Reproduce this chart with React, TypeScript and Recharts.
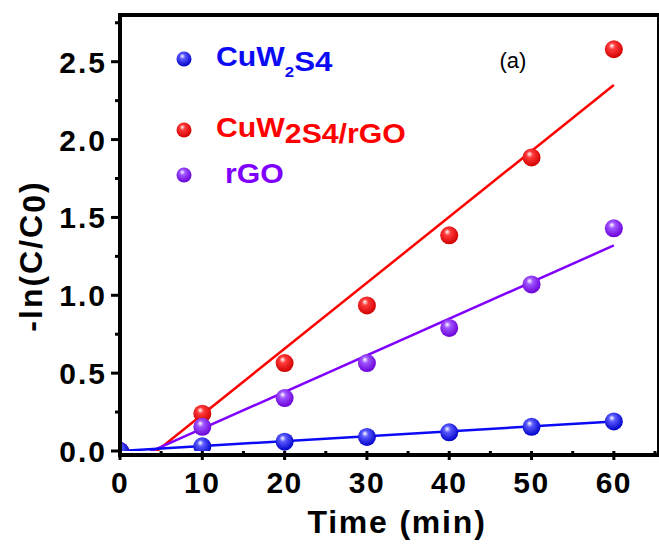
import { ComposedChart, Line, Scatter, XAxis, YAxis } from 'recharts'

// Pseudo-first-order kinetics, -ln(C/C0) against irradiation time
const times = [0, 10, 20, 30, 40, 50, 60]
const cuw2s4 = [0.0, 0.03, 0.06, 0.09, 0.12, 0.155, 0.19]
const composite = [0.0, 0.24, 0.565, 0.935, 1.385, 1.885, 2.58]
const rgo = [0.0, 0.155, 0.34, 0.565, 0.79, 1.07, 1.43]

// Linear fit segments (start / end)
const cuw2s4FitX = [0, 60]
const cuw2s4FitY = [0.0, 0.19]
const compositeFitX = [4.0, 60]
const compositeFitY = [-0.02, 2.35]
const rgoFitX = [2.8, 60]
const rgoFitY = [-0.025, 1.32]

const xTicks = [0, 5, 10, 15, 20, 25, 30, 35, 40, 45, 50, 55, 60, 65]
const yTicks = [0, 0.25, 0.5, 0.75, 1, 1.25, 1.5, 1.75, 2, 2.25, 2.5, 2.75]

const BLUE = '#0a0af5'
const RED = '#ff0000'
const PURPLE = '#8000ff'
const FONT = '"Liberation Sans", Arial, Helvetica, sans-serif'

const WIDTH = 659
const HEIGHT = 545
const MARGIN = { top: 15, right: 4, left: 0, bottom: 0 }
const Y_AXIS_W = 120
const X_AXIS_H = 94
const FRAME_W = 4

// plot box implied by the chart layout above
const PLOT = {
  x: MARGIN.left + Y_AXIS_W,
  y: MARGIN.top,
  width: WIDTH - MARGIN.left - MARGIN.right - Y_AXIS_W,
  height: HEIGHT - MARGIN.top - MARGIN.bottom - X_AXIS_H,
}

const toPoints = (xs: number[], ys: number[]) => xs.map((x, i) => ({ x, y: ys[i] }))

const balls = [
  { id: 'ball-blue', light: '#5a5aff', dark: '#0000c8' },
  { id: 'ball-red', light: '#ff3a3a', dark: '#d00000' },
  { id: 'ball-purple', light: '#a055ff', dark: '#6a00d8' },
]

const ballShape = (id: string, r: number) => (props: any) => {
  const { cx, cy } = props
  if (cx == null || cy == null) return <g />
  return <circle cx={cx} cy={cy} r={r} fill={`url(#${id})`} />
}

function XTick(props: any) {
  const { x, y, payload } = props
  const major = payload.value % 10 === 0
  return (
    <g>
      <line x1={x} x2={x} y1={y} y2={y + (major ? 9 : 5)} stroke="#000" strokeWidth={3} />
      {major && (
        <text
          x={x}
          y={y + 42}
          textAnchor="middle"
          fontFamily={FONT}
          fontWeight="bold"
          fontSize={30}
          letterSpacing={1.5}
          fill="#000"
        >
          {payload.value}
        </text>
      )}
    </g>
  )
}

function YTick(props: any) {
  const { x, y, payload } = props
  const v = payload.value as number
  const major = Math.abs(v * 2 - Math.round(v * 2)) < 1e-6
  return (
    <g>
      <line x1={x - (major ? 9 : 5)} x2={x} y1={y} y2={y} stroke="#000" strokeWidth={3} />
      {major && (
        <text
          x={x - 13}
          y={y + 11}
          textAnchor="end"
          fontFamily={FONT}
          fontWeight="bold"
          fontSize={30}
          letterSpacing={2}
          fill="#000"
        >
          {v.toFixed(1)}
        </text>
      )}
    </g>
  )
}

export default function App() {
  return (
    <div style={{ position: 'absolute', left: 0, top: 0, width: WIDTH, height: HEIGHT, background: '#fff' }}>
      <ComposedChart width={WIDTH} height={HEIGHT} margin={MARGIN}>
        <defs>
          {balls.map((b) => (
            <radialGradient key={b.id} id={b.id} cx="0.45" cy="0.4" r="0.6" fx="0.38" fy="0.3">
              <stop offset="0%" stopColor="#ffffff" />
              <stop offset="30%" stopColor={b.light} />
              <stop offset="100%" stopColor={b.dark} />
            </radialGradient>
          ))}
        </defs>
        <XAxis
          type="number"
          dataKey="x"
          domain={[0, 65]}
          ticks={xTicks}
          allowDataOverflow
          height={X_AXIS_H}
          axisLine={false}
          tickLine={false}
          tickSize={0}
          tickMargin={0}
          interval={0}
          tick={<XTick />}
        />
        <YAxis
          type="number"
          dataKey="y"
          domain={[0, 2.8]}
          ticks={yTicks}
          allowDataOverflow
          width={Y_AXIS_W}
          axisLine={false}
          tickLine={false}
          tickSize={0}
          tickMargin={0}
          interval={0}
          tick={<YTick />}
        />
        <Line
          data={toPoints(compositeFitX, compositeFitY)}
          dataKey="y"
          type="linear"
          stroke={RED}
          strokeWidth={2.5}
          dot={false}
          isAnimationActive={false}
        />
        <Line
          data={toPoints(rgoFitX, rgoFitY)}
          dataKey="y"
          type="linear"
          stroke={PURPLE}
          strokeWidth={2.5}
          dot={false}
          isAnimationActive={false}
        />
        <Line
          data={toPoints(cuw2s4FitX, cuw2s4FitY)}
          dataKey="y"
          type="linear"
          stroke={BLUE}
          strokeWidth={2.5}
          dot={false}
          isAnimationActive={false}
        />
        <Scatter
          data={toPoints(times, composite)}
          dataKey="y"
          shape={ballShape('ball-red', 9)}
          isAnimationActive={false}
        />
        <Scatter
          data={toPoints(times, rgo)}
          dataKey="y"
          shape={ballShape('ball-purple', 9)}
          isAnimationActive={false}
        />
        <Scatter
          data={toPoints(times, cuw2s4)}
          dataKey="y"
          shape={ballShape('ball-blue', 9)}
          isAnimationActive={false}
        />
      </ComposedChart>

      {/* plot frame */}
      <div
        style={{
          position: 'absolute',
          left: PLOT.x - FRAME_W / 2,
          top: PLOT.y - FRAME_W / 2,
          width: PLOT.width,
          height: PLOT.height,
          border: `${FRAME_W}px solid #000`,
          pointerEvents: 'none',
        }}
      />

      {/* axis titles, legend and panel tag */}
      <svg
        width={WIDTH}
        height={HEIGHT}
        style={{ position: 'absolute', left: 0, top: 0, pointerEvents: 'none' }}
        fontFamily={FONT}
      >
        <text x={397} y={533} textAnchor="middle" fontWeight="bold" fontSize={32} letterSpacing={1.8} fill="#000">
          Time (min)
        </text>
        <text
          transform="translate(42,256) rotate(-90)"
          textAnchor="middle"
          fontWeight="bold"
          fontSize={32}
          letterSpacing={2}
          fill="#000"
        >
          -ln(C/C<tspan dy={3}>0</tspan>
          <tspan dy={-3}>)</tspan>
        </text>

        <text x={513} y={68} textAnchor="middle" fontSize={22} fill="#000">
          (a)
        </text>

        <circle cx={184} cy={59} r={7.5} fill="url(#ball-blue)" />
        <text transform="translate(216,66) scale(1.12,1)" fontWeight="bold" fontSize={27} fill={BLUE}>
          CuW<tspan fontSize={15} dy={11}>2</tspan>
          <tspan dy={-6} fontSize={28}>S4</tspan>
        </text>

        <circle cx={184} cy={130} r={7.5} fill="url(#ball-red)" />
        <text transform="translate(216,137) scale(1.12,1)" fontWeight="bold" fontSize={27} fill={RED}>
          CuW<tspan dy={6}>2S4/rGO</tspan>
        </text>

        <circle cx={184} cy={175} r={7.5} fill="url(#ball-purple)" />
        <text transform="translate(225,183) scale(1.12,1)" fontWeight="bold" fontSize={27} fill={PURPLE}>
          rGO
        </text>
      </svg>
    </div>
  )
}
